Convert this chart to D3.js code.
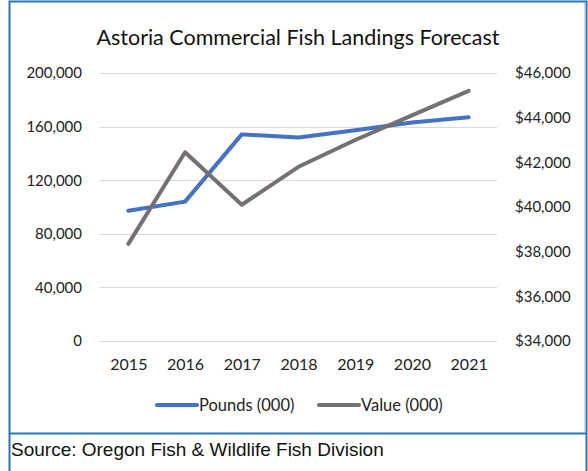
<!DOCTYPE html>
<html>
<head>
<meta charset="utf-8">
<script src="https://cdn.jsdelivr.net/npm/d3@7"></script>
<style>
  html, body { margin: 0; padding: 0; background: #fff; }
  svg { display: block; }
  .tick text { font-family: Lato, "Open Sans", sans-serif; font-size: 15px; fill: #222; }
  .axis-x .tick text { font-size: 16px; }
</style>
</head>
<body>
<svg id="chart" width="588" height="471"></svg>
<script>
// Series data
const years = ["2015", "2016", "2017", "2018", "2019", "2020", "2021"];
const pounds = [97200, 104000, 154200, 151800, 157300, 163000, 166900];
const value = [38350, 42450, 40100, 41800, 43000, 44100, 45200];
const leftTicks = [0, 40000, 80000, 120000, 160000, 200000];
const rightTicks = [34000, 36000, 38000, 40000, 42000, 44000, 46000];
const seriesNames = ["Pounds (000)", "Value (000)"];

const W = 588, H = 471;
const plot = { left: 100, right: 497, top: 73, bottom: 341 };
const blue = "#4472C4", gray = "#767171", frame = "#2E75B6";

const svg = d3.select("#chart");

// Chart frame and source box
svg.append("rect").attr("x", 0).attr("y", 0).attr("width", W).attr("height", H).attr("fill", "#fff");
svg.append("path")
  .attr("d", `M9.5,${H} V1.5 H586.5 V${H}`)
  .attr("fill", "none").attr("stroke", frame).attr("stroke-width", 2);
svg.append("line")
  .attr("x1", 9.5).attr("x2", 586.5).attr("y1", 433.5).attr("y2", 433.5)
  .attr("stroke", frame).attr("stroke-width", 2);
svg.append("line")
  .attr("x1", 584.5).attr("x2", 584.5).attr("y1", 3).attr("y2", 432)
  .attr("stroke", "#d9d9d9").attr("stroke-width", 1);

// Scales
const x = d3.scalePoint().domain(years).range([plot.left, plot.right]).padding(0.5);
const yL = d3.scaleLinear().domain([0, 200000]).range([plot.bottom, plot.top]);
const yR = d3.scaleLinear().domain([34000, 46000]).range([plot.bottom, plot.top]);

// Gridlines
svg.append("g").selectAll("line").data(leftTicks).join("line")
  .attr("x1", plot.left).attr("x2", plot.right)
  .attr("y1", d => Math.round(yL(d)) + 0.5).attr("y2", d => Math.round(yL(d)) + 0.5)
  .attr("stroke", "#d9d9d9").attr("stroke-width", 1);

// Axes
const fmt = d3.format(",");
const axL = svg.append("g").attr("transform", `translate(${plot.left},0)`)
  .call(d3.axisLeft(yL).tickValues(leftTicks).tickSize(0).tickPadding(18).tickFormat(fmt));
const axR = svg.append("g").attr("transform", `translate(${plot.right},0)`)
  .call(d3.axisRight(yR).tickValues(rightTicks).tickSize(0).tickPadding(18).tickFormat(d => "$" + fmt(d)));
const axB = svg.append("g").attr("class", "axis-x").attr("transform", `translate(0,${plot.bottom})`)
  .call(d3.axisBottom(x).tickSize(0).tickPadding(18));
[axL, axR, axB].forEach(a => a.select(".domain").remove());

// Lines
const lineL = d3.line().x((d, i) => x(years[i])).y(d => yL(d));
const lineR = d3.line().x((d, i) => x(years[i])).y(d => yR(d));
svg.append("path").datum(pounds).attr("d", lineL)
  .attr("fill", "none").attr("stroke", blue).attr("stroke-width", 4)
  .attr("stroke-linejoin", "round").attr("stroke-linecap", "round");
svg.append("path").datum(value).attr("d", lineR)
  .attr("fill", "none").attr("stroke", gray).attr("stroke-width", 4)
  .attr("stroke-linejoin", "round").attr("stroke-linecap", "round");

// Title
svg.append("text").attr("x", 298).attr("y", 45).attr("text-anchor", "middle")
  .attr("font-family", "Lato, 'Open Sans', sans-serif").attr("font-size", 21.5).attr("fill", "#111")
  .text("Astoria Commercial Fish Landings Forecast");

// Legend
const legend = svg.append("g").attr("font-family", "Lato, 'Open Sans', sans-serif").attr("font-size", 16.5).attr("fill", "#222");
const legendItems = [
  { name: seriesNames[0], color: blue, x0: 157 },
  { name: seriesNames[1], color: gray, x0: 319 }
];
legendItems.forEach(it => {
  legend.append("line").attr("x1", it.x0).attr("x2", it.x0 + 40).attr("y1", 405).attr("y2", 405)
    .attr("stroke", it.color).attr("stroke-width", 4).attr("stroke-linecap", "round");
  legend.append("text").attr("x", it.x0 + 42).attr("y", 411).text(it.name);
});

// Source note
svg.append("text").attr("x", 11).attr("y", 456)
  .attr("font-family", "'Liberation Sans', Arial, sans-serif").attr("font-size", 19).attr("fill", "#111")
  .text("Source: Oregon Fish & Wildlife Fish Division");
</script>
</body>
</html>
